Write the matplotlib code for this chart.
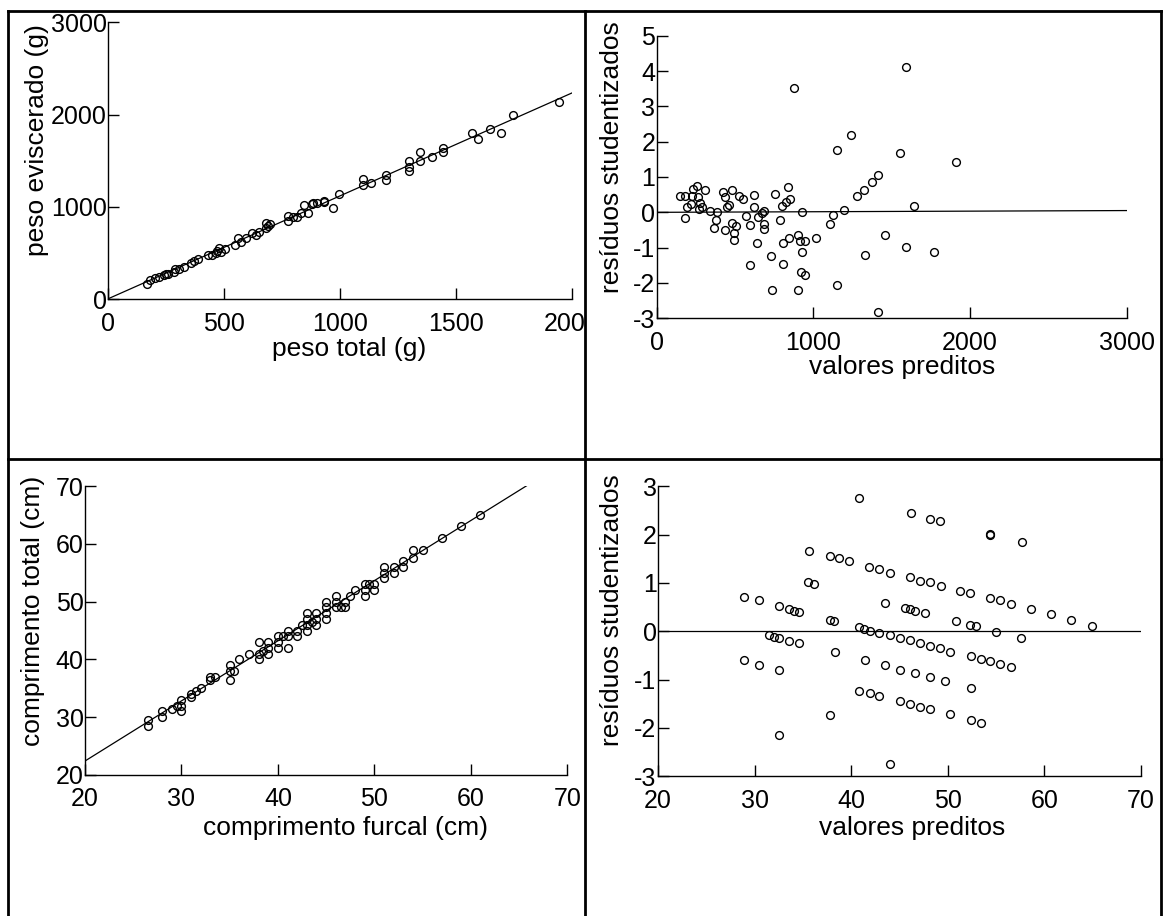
import numpy as np
import matplotlib
matplotlib.use("Agg")
import matplotlib.pyplot as plt
from matplotlib.lines import Line2D
from matplotlib.transforms import Bbox, TransformedBbox

plt.rcParams['font.family'] = ['Liberation Sans', 'DejaVu Sans']
plt.rcParams['axes.unicode_minus'] = False

# painel 1: peso total x peso eviscerado (g)
peso_total = [169, 183, 203, 221, 240, 257, 283, 290, 307, 329, 357, 369, 386,
              429, 450, 464, 479, 489, 504, 546, 560, 572, 593, 622, 640, 653,
              679, 682, 700, 776, 776, 796, 815, 833, 846, 860, 883, 903, 929,
              969, 997, 1100, 1100, 1132, 1197, 1197, 1297, 1297, 1297, 1346,
              1346, 1396, 1446, 1446, 1571, 1594, 1646, 1696, 1745, 1943,
              250, 470, 690, 880, 930]
peso_evisc = [162, 209, 227, 245, 263, 274, 299, 325, 332, 353, 397, 418, 433,
              480, 480, 498, 553, 516, 545, 588, 667, 618, 667, 722, 697, 732,
              830, 769, 813, 906, 848, 895, 895, 938, 1018, 938, 1040, 1047, 1057,
              986, 1141, 1300, 1238, 1260, 1343, 1289, 1498, 1437, 1393, 1599,
              1498, 1538, 1643, 1596, 1798, 1737, 1842, 1798, 1997, 2141,
              272, 520, 790, 1030, 1070]
reta1 = (5.0, 1.115)   # intercepto, inclinacao

# painel 2: residuos do modelo de peso
pred_peso = [149, 180, 183, 197, 219, 229, 234, 257, 265, 270, 276, 291, 310,
             342, 376, 369, 384, 423, 437, 435, 452, 465, 480, 482, 497, 497,
             505, 524, 552, 569, 597, 597, 622, 622, 641, 650, 671, 684, 684,
             688, 730, 737, 756, 790, 800, 807, 807, 828, 837, 849, 847, 875,
             902, 902, 915, 926, 926, 921, 947, 947, 1015, 1104, 1127, 1149,
             1149, 1195, 1238, 1280, 1327, 1329, 1372, 1414, 1414, 1461, 1552,
             1594, 1594, 1641, 1771, 1909]
res_peso = [0.47, 0.45, -0.15, 0.14, 0.24, 0.47, 0.65, 0.75, 0.43, 0.08, 0.27,
            0.15, 0.62, 0.03, -0.21, -0.45, 0.0, 0.57, 0.43, -0.51, 0.14, 0.21,
            0.62, -0.30, -0.59, -0.79, -0.38, 0.45, 0.38, -0.09, -0.36, -1.48,
            0.50, 0.14, -0.88, -0.12, -0.03, 0.05, -0.33, -0.48, -1.24, -2.19,
            0.53, -0.22, 0.17, -0.88, -1.45, 0.28, 0.71, 0.38, -0.74, 3.52,
            -0.65, -2.19, -0.81, 0.0, -1.13, -1.68, -0.82, -1.77, -0.74, -0.32,
            -0.07, 1.77, -2.05, 0.06, 2.19, 0.45, 0.64, -1.21, 0.85, 1.07,
            -2.82, -0.63, 1.69, 4.11, -0.98, 0.18, -1.12, 1.42]
ref2_x = [0, 3000]
ref2_y = [0.0, 0.05]

# painel 3: comprimento furcal x comprimento total (cm)
comp_furcal = [26.5, 26.5, 28, 28, 29, 29.5, 30, 30, 30, 31, 31, 31.5, 32, 33,
               33, 33.5, 35, 35, 35, 35.5, 36, 37, 38, 38, 38, 38.5, 39, 39, 39,
               40, 40, 40, 40.5, 41, 41, 41, 42, 42, 42.5, 43, 43, 43, 43, 43.5,
               44, 44, 44, 45, 45, 45, 45, 46, 46, 46, 46.5, 47, 47, 47.5, 48,
               49, 49, 49, 49.5, 50, 50, 51, 51, 51, 52, 52, 53, 53, 54, 54, 55,
               57, 59, 61]
comp_total = [29.5, 28.5, 31, 30, 31.5, 32, 33, 32, 31, 34, 33.5, 34.5, 35, 37,
              36.5, 37, 39, 38, 36.5, 38, 40, 41, 43, 41, 40, 41.5, 43, 42, 41,
              44, 43, 42, 44, 45, 44, 42, 45, 44, 46, 48, 47, 46, 45, 46.5, 48,
              47, 46, 50, 49, 48, 47, 51, 50, 49, 49, 50, 49, 51, 52, 53, 52,
              51, 53, 53, 52, 56, 55, 54, 56, 55, 57, 56, 59, 57.5, 59, 61, 63,
              65]
reta3 = (1.62, 1.04)
reta3_lim = [20, 65.8]

# painel 4: residuos do modelo de comprimento
pred_comp = [40.82, 46.15, 48.22, 49.19, 54.41, 54.41, 57.66, 35.67, 37.78, 38.71,
             39.82, 41.89, 42.93, 44.07, 46.08, 47.18, 48.22, 49.29, 51.30, 52.30,
             54.41, 55.41, 56.52, 58.66, 60.70, 62.81, 64.92, 35.57, 36.19, 28.93,
             30.48, 32.52, 33.60, 34.11, 34.60, 43.48, 45.59, 46.08, 46.59, 47.66,
             37.78, 38.26, 50.85, 52.30, 52.89, 55.0, 57.55, 40.82, 41.37, 41.93,
             42.93, 44.0, 45.04, 46.08, 47.11, 48.22, 49.19, 50.29, 31.45, 32.0,
             32.56, 33.60, 34.60, 38.30, 52.40, 53.41, 54.41, 55.41, 56.52, 28.93,
             30.48, 32.56, 41.41, 43.48, 45.04, 46.63, 48.22, 49.74, 52.40, 40.82,
             41.93, 42.93, 45.04, 46.08, 47.11, 48.22, 50.29, 52.40, 53.41, 37.78,
             32.56, 44.07]
res_comp = [2.76, 2.44, 2.33, 2.28, 2.00, 2.01, 1.85, 1.67, 1.56, 1.51,
            1.45, 1.33, 1.28, 1.21, 1.12, 1.05, 1.01, 0.94, 0.84, 0.79,
            0.68, 0.64, 0.57, 0.46, 0.35, 0.24, 0.12, 1.01, 0.98, 0.72,
            0.64, 0.52, 0.46, 0.43, 0.40, 0.59, 0.48, 0.46, 0.43, 0.37,
            0.23, 0.21, 0.21, 0.14, 0.10, -0.01, -0.14, 0.09, 0.05, 0.01,
            -0.03, -0.08, -0.14, -0.19, -0.25, -0.30, -0.35, -0.42, -0.08, -0.11,
            -0.14, -0.20, -0.25, -0.43, -0.51, -0.57, -0.62, -0.68, -0.73, -0.60,
            -0.69, -0.80, -0.60, -0.70, -0.80, -0.86, -0.95, -1.03, -1.18, -1.23,
            -1.28, -1.33, -1.44, -1.50, -1.56, -1.61, -1.72, -1.83, -1.89, -1.73,
            -2.14, -2.74]
ref4_x = [20, 70]
ref4_y = [0, 0]

W, H = 1168, 916
fig = plt.figure(figsize=(W / 100, H / 100), dpi=100)


def eixo_px(l, t, r, b):
    return fig.add_axes([l / W, 1 - b / H, (r - l) / W, (b - t) / H])


def linha_fig(x0, y0, x1, y1):
    fig.add_artist(Line2D([x0 / W, x1 / W], [1 - y0 / H, 1 - y1 / H],
                          transform=fig.transFigure, color='k', lw=2.0))


# moldura tipo tabela
linha_fig(8, 10.7, 1161, 10.7)
linha_fig(8, 10.7, 8, 916)
linha_fig(1161, 10.7, 1161, 916)
linha_fig(585, 10.7, 585, 916)
linha_fig(8, 459.5, 1161, 459.5)


def estilo(ax, xt, yt, xlab, ylab, xl_pos, yl_pos):
    ax.spines['top'].set_visible(False)
    ax.spines['right'].set_visible(False)
    for s in ['left', 'bottom']:
        ax.spines[s].set_linewidth(1.0)
    ax.set_xticks(xt)
    ax.set_yticks(yt)
    ax.set_xlim(xt[0], xt[-1])
    ax.set_ylim(yt[0], yt[-1])
    ax.tick_params(direction='in', length=8, width=1.0, labelsize=18)
    ax.tick_params(axis='x', pad=9)
    ax.tick_params(axis='y', pad=1)
    ax.set_xlabel(xlab, fontsize=19, va='center')
    ax.set_ylabel(ylab, fontsize=19, va='center')
    ax.xaxis.set_label_coords(*xl_pos)
    ax.yaxis.set_label_coords(*yl_pos)
    ax.patch.set_alpha(0)


pontos = dict(ls='none', marker='o', mfc='none', mec='k', ms=5.6, mew=1.0)

# painel 1
ax1 = eixo_px(108, 22.3, 572, 299.3)
x1 = np.array([0, 2000])
ax1.plot(x1, reta1[0] + reta1[1] * x1, color='k', lw=0.9)
ax1.plot(peso_total, peso_evisc, **pontos)
estilo(ax1, [0, 500, 1000, 1500, 2000], [0, 1000, 2000, 3000],
       'peso total (g)', 'peso eviscerado (g)', (0.519, -0.18), (-0.153, 0.575))

# painel 2
ax2 = eixo_px(656.6, 35.7, 1126.6, 318.3)
ax2.plot(ref2_x, ref2_y, color='k', lw=0.9)
ax2.plot(pred_peso, res_peso, **pontos)
estilo(ax2, [0, 1000, 2000, 3000], [-3, -2, -1, 0, 1, 2, 3, 4, 5],
       'valores preditos', 'resíduos studentizados', (0.523, -0.171), (-0.094, 0.571))

# painel 3
ax3 = eixo_px(85, 486, 567.2, 775)
x3 = np.array(reta3_lim)
ax3.plot(x3, reta3[0] + reta3[1] * x3, color='k', lw=0.9)
ax3.plot(comp_furcal, comp_total, **pontos)
estilo(ax3, [20, 30, 40, 50, 60, 70], [20, 30, 40, 50, 60, 70],
       'comprimento furcal (cm)', 'comprimento total (cm)', (0.540, -0.183), (-0.107, 0.567))

# painel 4
ax4 = eixo_px(658, 486.3, 1140.8, 776.3)
ax4.plot(ref4_x, ref4_y, color='k', lw=0.9)
ax4.plot(pred_comp, res_comp, **pontos)
estilo(ax4, [20, 30, 40, 50, 60, 70], [-3, -2, -1, 0, 1, 2, 3],
       'valores preditos', 'resíduos studentizados', (0.5255, -0.178), (-0.095, 0.572))

# rotulos do eixo x cortados pela linha central da tabela
corte = TransformedBbox(Bbox.from_extents(0, 0, 584 / W, 1), fig.transFigure)
for ax in (ax1, ax3):
    for lbl in ax.get_xticklabels():
        lbl.set_clip_box(corte)
        lbl.set_clip_on(True)

fig.savefig('out.png', dpi=100)
